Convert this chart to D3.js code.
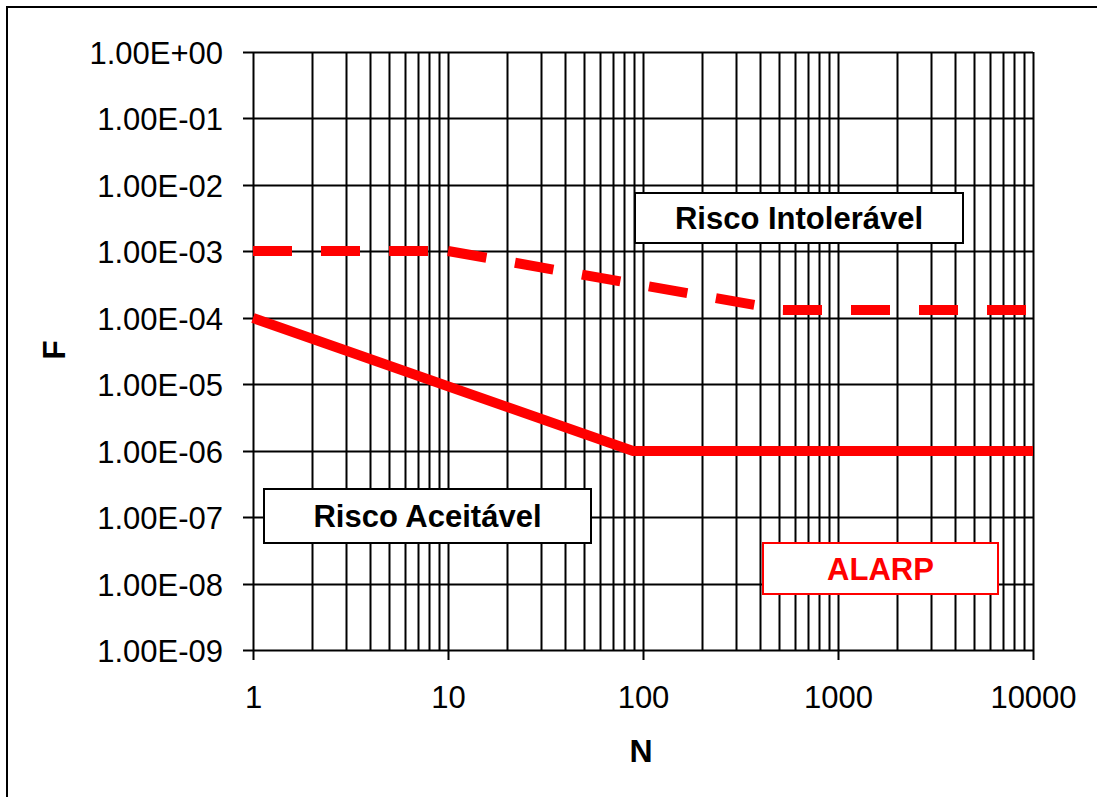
<!DOCTYPE html>
<html>
<head>
<meta charset="utf-8">
<script src="https://cdn.jsdelivr.net/npm/d3@7"></script>
<style>
  html, body { margin: 0; padding: 0; background: #fff; }
  svg { display: block; }
  text { font-family: "Liberation Sans", Arial, sans-serif; }
</style>
</head>
<body>
<svg id="chart" width="1097" height="797"></svg>
<script>
// F-N criteria: frequency of accidents (F) with N or more fatalities
const yTickValues = [1e0, 1e-1, 1e-2, 1e-3, 1e-4, 1e-5, 1e-6, 1e-7, 1e-8, 1e-9];
const yTickLabels = ["1.00E+00", "1.00E-01", "1.00E-02", "1.00E-03", "1.00E-04",
                     "1.00E-05", "1.00E-06", "1.00E-07", "1.00E-08", "1.00E-09"];
const xTickValues = [1, 10, 100, 1000, 10000];
const xTickLabels = ["1", "10", "100", "1000", "10000"];

// Upper limit (intolerable risk), dashed
const intolerableN = [1, 10, 525, 10000];
const intolerableF = [1e-3, 1e-3, 1.3e-4, 1.3e-4];
// Lower limit (acceptable risk), solid
const acceptableN = [1, 89, 10000];
const acceptableF = [1e-4, 1e-6, 1e-6];

const regionLabels = ["Risco Intolerável", "Risco Aceitável", "ALARP"];
const xTitle = "N";
const yTitle = "F";

const svg = d3.select("#chart");

// outer frame
svg.append("rect")
  .attr("x", 7).attr("y", 7).attr("width", 1200).attr("height", 1000)
  .attr("fill", "none").attr("stroke", "#000").attr("stroke-width", 2);

const x = d3.scaleLog().domain([1, 10000]).rangeRound([253, 1033]);
const y = d3.scaleLog().domain([1, 1e-9]).rangeRound([52, 650]);

const plotLeft = x.range()[0], plotRight = x.range()[1];
const plotTop = y.range()[0], plotBottom = y.range()[1];

// minor vertical grid lines (2..9 within each decade)
const minorX = [];
for (let d = 1; d < 10000; d *= 10) {
  for (let k = 2; k <= 9; k++) minorX.push(d * k);
}
const minorAxis = svg.append("g")
  .attr("transform", `translate(0,${plotTop})`)
  .call(d3.axisBottom(x).tickValues(minorX).tickSize(plotBottom - plotTop).tickFormat(""));
minorAxis.select(".domain").remove();
minorAxis.selectAll("line").attr("stroke", "#000").attr("stroke-width", 2);

// major vertical grid lines + bottom tick labels
const xAxis = svg.append("g")
  .attr("transform", `translate(0,${plotTop})`)
  .call(d3.axisBottom(x).tickValues(xTickValues)
    .tickSize(plotBottom - plotTop + 10).tickPadding(26)
    .tickFormat((d, i) => xTickLabels[i]));
xAxis.select(".domain").remove();
xAxis.selectAll("line").attr("stroke", "#000").attr("stroke-width", 2);
xAxis.selectAll("text")
  .attr("fill", "#000").attr("font-size", 31)
  .style("font-family", "'Liberation Sans', Arial, sans-serif");

// horizontal grid lines + left tick labels
const yAxis = svg.append("g")
  .attr("transform", `translate(${plotRight},0)`)
  .call(d3.axisLeft(y).tickValues(yTickValues)
    .tickSize(plotRight - plotLeft + 10).tickPadding(20)
    .tickFormat((d, i) => yTickLabels[i]));
yAxis.select(".domain").remove();
yAxis.selectAll("line").attr("stroke", "#000").attr("stroke-width", 2);
yAxis.selectAll("text")
  .attr("fill", "#000").attr("font-size", 31).attr("dy", "0.36em")
  .style("font-family", "'Liberation Sans', Arial, sans-serif");

// criteria lines
const line = d3.line().x(d => x(d[0])).y(d => y(d[1]));
const intolerablePts = intolerableN.map((n, i) => [n, intolerableF[i]]);
const acceptablePts = acceptableN.map((n, i) => [n, acceptableF[i]]);

// dashed limit: each segment restarts its dash pattern
d3.pairs(intolerablePts).forEach(seg => {
  svg.append("path")
    .attr("d", line(seg))
    .attr("fill", "none").attr("stroke", "#ff0000")
    .attr("stroke-width", 10).attr("stroke-dasharray", "39,29");
});

svg.append("path")
  .attr("d", line(acceptablePts))
  .attr("fill", "none").attr("stroke", "#ff0000")
  .attr("stroke-width", 10).attr("stroke-linejoin", "miter");

// region label boxes
function labelBox(x0, y0, w, h, label, color) {
  const g = svg.append("g");
  g.append("rect")
    .attr("x", x0).attr("y", y0).attr("width", w).attr("height", h)
    .attr("fill", "#fff").attr("stroke", color).attr("stroke-width", 2);
  g.append("text")
    .attr("x", x0 + w / 2).attr("y", y0 + h / 2)
    .attr("dy", "0.36em").attr("text-anchor", "middle")
    .attr("font-size", 31).attr("font-weight", "bold").attr("fill", color)
    .text(label);
}
labelBox(635, 193, 328, 50, regionLabels[0], "#000");
labelBox(264, 489, 327, 54, regionLabels[1], "#000");
labelBox(763, 543, 235, 51, regionLabels[2], "#ff0000");

// axis titles
svg.append("text")
  .attr("x", 641).attr("y", 762).attr("text-anchor", "middle")
  .attr("font-size", 32).attr("font-weight", "bold").attr("fill", "#000")
  .text(xTitle);
svg.append("text")
  .attr("transform", "translate(65,350) rotate(-90)")
  .attr("text-anchor", "middle")
  .attr("font-size", 32).attr("font-weight", "bold").attr("fill", "#000")
  .text(yTitle);
</script>
</body>
</html>
